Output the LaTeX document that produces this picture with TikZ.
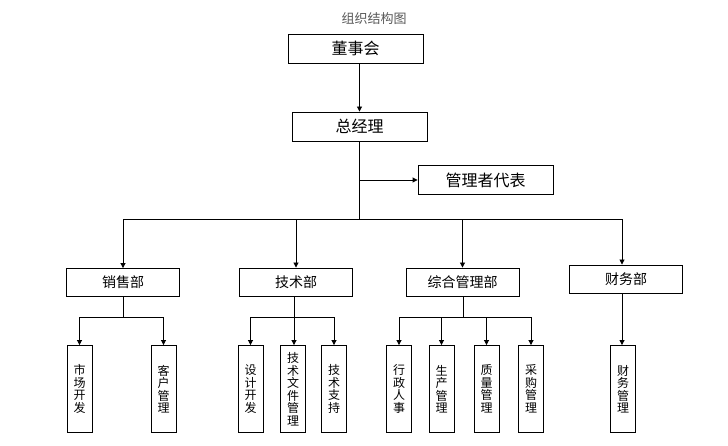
\documentclass[tikz,border=0pt]{standalone}
\usepackage{fontspec}
\setmainfont{Noto Sans CJK SC}
\usetikzlibrary{arrows.meta}
\begin{document}
\begin{tikzpicture}[x=1pt,y=-1pt,
  box/.style={draw=black,line width=0.9pt,fill=white,inner sep=0pt,rectangle},
  topbox/.style={box,minimum width=135pt,minimum height=29pt,font=\fontsize{16}{18}\selectfont},
  deptbox/.style={box,minimum width=113pt,minimum height=28pt,font=\fontsize{14}{16}\selectfont},
  leafbox/.style={box,minimum width=25pt,minimum height=87pt,align=center,font=\fontsize{12}{12.5}\selectfont},
  line/.style={draw=black,line width=0.9pt},
  arr/.style={line,-{Triangle[length=5pt,width=5pt]}}]
\useasboundingbox (0,0) rectangle (728,446);
\fill[white] (0,0) rectangle (728,446);
% title
\node[text=black!65,font=\fontsize{13}{15}\selectfont] (title) at (374,19) {组织结构图};
% top boxes
\node[topbox] (dsh) at (355.5,48.5) {董事会};
\node[topbox] (zjl) at (359.5,126.5) {总经理};
\node[topbox] (glz) at (485.5,180) {管理者代表};
% departments
\node[deptbox] (xs) at (123,282.5) {销售部};
\node[deptbox] (js) at (296,282) {技术部};
\node[deptbox] (zh) at (462.5,282) {综合管理部};
\node[deptbox] (cw) at (626,279) {财务部};
% leaves
\node[leafbox] (l1) at (79.5,389) {市\\场\\开\\发};
\node[leafbox] (l2) at (163.5,389) {客\\户\\管\\理};
\node[leafbox] (l3) at (250.5,389) {设\\计\\开\\发};
\node[leafbox] (l4) at (293,389) {技\\术\\文\\件\\管\\理};
\node[leafbox] (l5) at (334,389) {技\\术\\支\\持};
\node[leafbox] (l6) at (399,389) {行\\政\\人\\事};
\node[leafbox] (l7) at (441.5,389) {生\\产\\管\\理};
\node[leafbox] (l8) at (486.5,389) {质\\量\\管\\理};
\node[leafbox] (l9) at (531,389) {采\\购\\管\\理};
\node[leafbox] (l10) at (623,389) {财\\务\\管\\理};
% connectors top
\draw[arr] (zjl.north |- dsh.south) -- (zjl.north);
\coordinate (bus) at (359.5,219);
\draw[line] (zjl.south) -- (bus);
\draw[arr] (zjl.south |- glz.west) -- (glz.west);
\draw[arr] (bus) -| (xs.north);
\draw[arr] (bus) -| (js.north);
\draw[arr] (bus) -| (zh.north);
\draw[arr] (bus) -| ([xshift=-4pt]cw.north);
% sales
\coordinate (b1) at (123,317);
\draw[line] (xs.south) -- (b1);
\draw[arr] (b1) -| (l1.north);
\draw[arr] (b1) -| (l2.north);
% tech
\coordinate (b2) at (294,317);
\draw[line] (js.south -| b2) -- (b2);
\draw[arr] (b2) -| (l3.north);
\draw[arr] (b2) -- (l4.north -| b2);
\draw[arr] (b2) -| (l5.north);
% general
\coordinate (b3) at (463,317);
\draw[line] (zh.south -| b3) -- (b3);
\draw[arr] (b3) -| (l6.north);
\draw[arr] (b3) -| (l7.north);
\draw[arr] (b3) -| (l8.north);
\draw[arr] (b3) -| (l9.north);
% finance
\draw[arr] ([xshift=-4pt]cw.south) -- ([xshift=-4pt]cw.south |- l10.north);
\end{tikzpicture}
\end{document}
